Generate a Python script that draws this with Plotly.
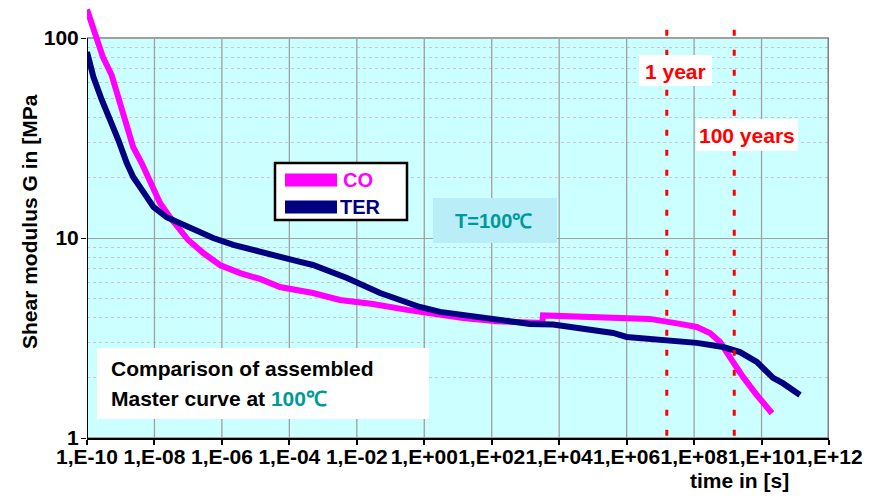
import plotly.graph_objects as go

# ---------------- data ----------------
co_time = [1.0e-10, 1.74e-10, 2.95e-10, 5.37e-10, 9.12e-10, 1.51e-9, 2.34e-9, 4.17e-9,
           8.32e-9, 1.45e-8, 2.88e-8, 5.75e-8, 1.0e-7, 2.82e-7, 8.71e-7, 3.47e-6,
           1.35e-5, 5.25e-5, 2.09e-4, 5.01e-4, 3.16e-3, 3.02e-2, 0.309, 2.95, 14.1,
           141, 3162, 3311, 4.17e4, 1.26e6, 4.9e6, 3.8e7, 1.2e8, 2.95e8, 5.89e8,
           1.15e9, 2.82e9, 7.24e9, 2.04e10]
co_G = [139, 106, 80.4, 65.3, 49.0, 35.9, 28.5, 23.7, 18.0, 15.0, 12.7, 11.0, 9.77,
        8.41, 7.33, 6.68, 6.24, 5.69, 5.50, 5.31, 4.90, 4.68, 4.37, 4.12, 3.98, 3.83,
        3.76, 4.10, 4.05, 4.03, 3.94, 3.72, 3.59, 3.35, 3.02, 2.54, 2.02, 1.64, 1.33]

ter_time = [1.0e-10, 1.55e-10, 2.75e-10, 4.79e-10, 8.51e-10, 1.51e-9, 2.34e-9, 4.68e-9,
            9.33e-9, 2.29e-8, 9.12e-8, 5.5e-7, 2.19e-6, 1.35e-5, 5.25e-5, 2.09e-4,
            5.01e-4, 5.13e-3, 4.9e-2, 0.741, 2.95, 14.1, 44.7, 427, 1349, 6607, 4.17e4,
            3.98e5, 1.0e6, 4.9e6, 1.2e7, 1.2e8, 7.24e8, 2.29e9, 7.24e9, 2.19e10,
            4.27e10, 1.38e11]
ter_G = [85.1, 63.8, 49.0, 39.8, 30.9, 23.7, 20.2, 17.0, 14.3, 12.7, 11.4, 10.0, 9.23,
         8.51, 7.94, 7.59, 7.33, 6.31, 5.31, 4.52, 4.27, 4.12, 3.98, 3.80, 3.72, 3.69,
         3.55, 3.35, 3.20, 3.13, 3.09, 2.99, 2.85, 2.69, 2.40, 2.00, 1.88, 1.64]

x_tickvals = [1e-10, 1e-8, 1e-6, 1e-4, 1e-2, 1e0, 1e2, 1e4, 1e6, 1e8, 1e10, 1e12]
x_ticktext = ["1,E-10", "1,E-08", "1,E-06", "1,E-04", "1,E-02", "1,E+00",
              "1,E+02", "1,E+04", "1,E+06", "1,E+08", "1,E+10", "1,E+12"]
y_tickvals = [1, 10, 100]
y_ticktext = ["1", "10", "100"]
y_minor = [2, 3, 4, 5, 6, 7, 8, 9, 20, 30, 40, 50, 60, 70, 80, 90]

marker_times = [1.55e7, 1.55e9]        # "1 year", "100 years" lines
marker_labels = ["1 year", "100 years"]

# ---------------- style ----------------
FONT = "Arial, Liberation Sans, sans-serif"
PINK = "#FF00FF"
NAVY = "#000080"
RED = "#FF0000"
TEAL = "#009999"
BG = "#CCFFFF"

W, H = 873, 501
ML, MR, MT, MB = 87, 44, 0, 63
PW, PH = W - ML - MR, H - MT - MB


def PX(x):
    return (x - ML) / PW


def PY(y):
    return 1 - (y - MT) / PH


fig = go.Figure()
fig.add_trace(go.Scatter(x=co_time, y=co_G, mode="lines", name="CO",
                         line=dict(color=PINK, width=6), showlegend=False))
fig.add_trace(go.Scatter(x=ter_time, y=ter_G, mode="lines", name="TER",
                         line=dict(color=NAVY, width=6), showlegend=False))

shapes = []
# plot area background (only 1..100)
shapes.append(dict(type="rect", xref="x", yref="y", x0=x_tickvals[0], x1=x_tickvals[-1],
                   y0=1, y1=100, fillcolor=BG, line=dict(color="#A0A0A0", width=2),
                   layer="below"))
# vertical gridlines
for xv in x_tickvals[1:-1]:
    shapes.append(dict(type="line", xref="x", yref="y", x0=xv, x1=xv, y0=1, y1=100,
                       line=dict(color="#A0A0A0", width=1.3), layer="between"))
# right border darker
shapes.append(dict(type="line", xref="x", yref="y", x0=x_tickvals[-1], x1=x_tickvals[-1],
                   y0=1, y1=100, line=dict(color="#808080", width=3), layer="between"))
# left axis line
shapes.append(dict(type="line", xref="x", yref="y", x0=x_tickvals[0], x1=x_tickvals[0],
                   y0=1, y1=100, line=dict(color="black", width=2), layer="above"))
# red dashed marker lines
for xv in marker_times:
    shapes.append(dict(type="line", xref="x", yref="y", x0=xv, x1=xv, y0=110, y1=1,
                       line=dict(color=RED, width=3, dash="6px,14px"), layer="above"))

# boxes (paper coordinates from pixel positions)
def box(x0, y0, x1, y1, fill, lc=None, lw=0):
    return dict(type="rect", xref="paper", yref="paper", x0=PX(x0), x1=PX(x1),
                y0=PY(y1), y1=PY(y0), fillcolor=fill,
                line=dict(color=lc or fill, width=lw), layer="above")

shapes.append(box(275, 163, 407, 220, "white", "black", 2.5))
shapes.append(dict(type="line", xref="paper", yref="paper", x0=PX(285), x1=PX(337),
                   y0=PY(180), y1=PY(180), line=dict(color=PINK, width=13), layer="above"))
shapes.append(dict(type="line", xref="paper", yref="paper", x0=PX(285), x1=PX(337),
                   y0=PY(207), y1=PY(207), line=dict(color=NAVY, width=13), layer="above"))
shapes.append(box(433, 198, 557, 243, "#B9EEF9"))
shapes.append(box(97, 348, 429, 419, "white"))
shapes.append(box(639, 55, 712, 86, "white"))
shapes.append(box(696, 119, 798, 151, "white"))

annotations = []


def txt(text, x, y, size=21, color="black", xanchor="center", angle=0):
    annotations.append(dict(text=text, xref="paper", yref="paper", x=PX(x), y=PY(y),
                            xanchor=xanchor, yanchor="middle", showarrow=False,
                            textangle=angle,
                            font=dict(family=FONT, size=size, color=color, weight=700)))


txt("CO", 341, 180, 20, PINK, "left")
txt("TER", 338, 207, 20, NAVY, "left")
txt("T=100℃", 493, 221, 20, TEAL)
txt("Comparison of assembled", 109, 368, 21, "black", "left")
txt("Master curve at <span style='color:%s'>100℃</span>" % TEAL, 109, 398, 21,
    "black", "left")
txt(marker_labels[0], 675, 71, 21, RED)
txt(marker_labels[1], 747, 135, 21, RED)
txt("Shear modulus G in [MPa", 29, 222, 21, "black", angle=-90)
txt("time in [s]", 739, 480, 21, "black")

fig.update_layout(
    width=W, height=H, autosize=False,
    margin=dict(l=ML, r=MR, t=MT, b=MB, pad=0, autoexpand=False),
    paper_bgcolor="white", plot_bgcolor="white",
    showlegend=False,
    shapes=shapes, annotations=annotations,
    xaxis=dict(type="log", range=[-10, 12], tickmode="array", tickvals=x_tickvals,
               ticktext=x_ticktext, showgrid=False, zeroline=False, automargin=False,
               tickangle=0, ticklabelstandoff=-6,
               showline=True, linecolor="black", linewidth=2,
               ticks="outside", ticklen=5, tickwidth=1.5, tickcolor="black",
               tickfont=dict(family=FONT, size=21, color="black", weight=700)),
    yaxis=dict(type="log", range=[0, 2.19], tickmode="array", tickvals=y_tickvals,
               ticktext=y_ticktext, showgrid=True, gridcolor="#A0A0A0", gridwidth=1,
               zeroline=False, showline=False, automargin=False,
               ticklabelstandoff=-2,
               ticks="outside", ticklen=5, tickwidth=1, tickcolor="black",
               tickfont=dict(family=FONT, size=21, color="black", weight=700),
               minor=dict(tickmode="array", tickvals=y_minor, showgrid=True,
                          gridcolor="#C8C8C8", griddash="dot", gridwidth=1, ticks="")),
)

fig.write_html("out.html", config={"displayModeBar": False},
               post_script="document.body.style.margin='0';"
                           "document.body.style.overflow='hidden';")
